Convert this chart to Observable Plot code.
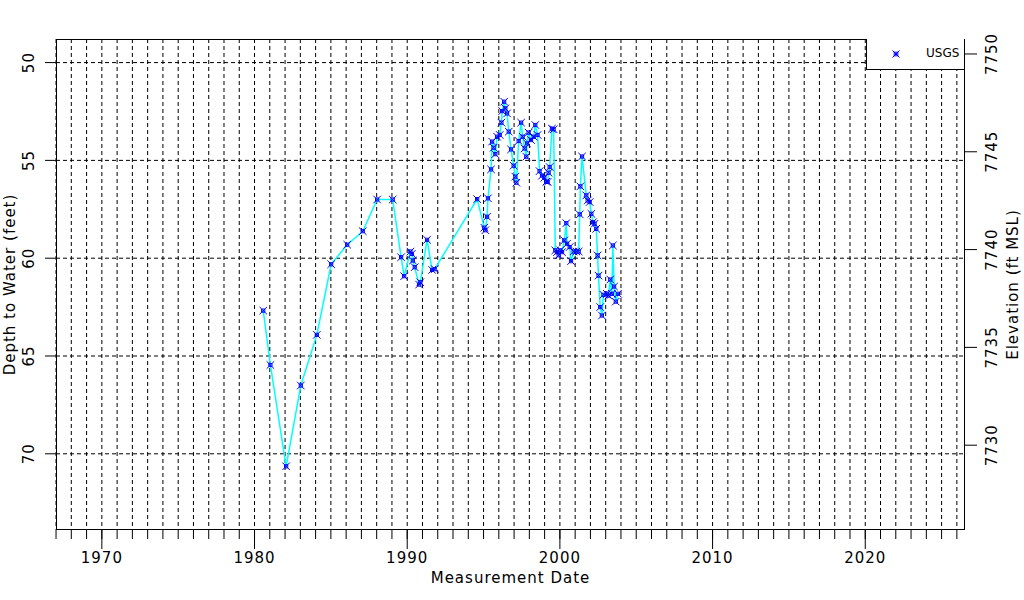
<!DOCTYPE html>
<html><head><meta charset="utf-8">
<script src="https://cdn.jsdelivr.net/npm/d3@7"></script>
<script src="https://cdn.jsdelivr.net/npm/@observablehq/plot@0.6"></script>
<style>
body{margin:0;background:#fff;}
#wrap{position:relative;width:1024px;height:600px;}
#legend{position:absolute;left:866px;top:39px;width:97px;height:30px;border-left:1px solid #000;border-bottom:1px solid #000;background:#fff;font:12px "DejaVu Sans",sans-serif;color:#000;}
#legend svg{position:absolute;left:24px;top:10px;}
#legend span{position:absolute;left:59px;top:7px;}
</style></head><body><div id="wrap"></div>
<script>
const years = [1980.57,1981.04,1982.07,1983.03,1984.08,1985.02,1986.07,1987.09,1988.03,1989.05,
1989.60,1989.80,1990.21,1990.30,1990.37,1990.49,1990.78,1990.86,1991.30,1991.63,1991.80,
1994.58,1995.05,1995.12,1995.23,1995.29,1995.49,1995.56,1995.66,1995.77,1995.89,
1996.06,1996.17,1996.22,1996.35,1996.43,1996.54,1996.65,1996.80,1996.97,1997.08,1997.15,
1997.30,1997.46,1997.56,1997.69,1997.80,1997.85,1997.95,1998.11,1998.28,1998.39,1998.54,
1998.67,1998.83,1998.98,1999.11,1999.20,1999.26,1999.33,1999.48,1999.59,1999.70,1999.81,
1999.92,2000.03,2000.14,2000.29,2000.42,2000.47,2000.64,2000.73,2000.90,2001.08,2001.23,
2001.30,2001.34,2001.45,2001.73,2001.82,2001.95,2002.06,2002.17,2002.27,2002.38,2002.47,
2002.53,2002.64,2002.75,2002.85,2003.07,2003.18,2003.30,2003.40,2003.47,2003.55,2003.66,2003.80];
const depths = [62.68,65.46,70.64,66.51,63.92,60.31,59.31,58.62,57.00,57.00,
59.95,60.92,59.66,59.78,60.12,60.46,61.35,61.23,59.06,60.60,60.56,
56.98,58.44,58.57,57.88,56.94,55.46,54.04,54.35,54.68,53.79,
53.70,53.07,52.48,52.00,52.34,52.60,53.53,54.44,55.27,55.83,56.14,
54.01,53.07,53.79,54.39,54.81,54.13,53.58,53.96,53.79,53.19,53.70,
55.55,55.78,55.89,56.09,56.10,55.63,55.34,53.38,53.41,59.60,59.69,
59.85,59.60,59.69,59.09,58.21,59.26,59.43,60.15,59.66,59.66,59.66,
57.76,56.33,54.80,56.79,57.05,57.13,57.73,58.16,58.24,58.50,59.86,
60.89,62.50,62.93,61.87,61.82,61.91,61.09,61.82,59.35,61.45,62.22,61.82];
const yearTicks = d3.range(1967, 2027);
const decadeTicks = [1970, 1980, 1990, 2000, 2010, 2020];
const depthTicks = [50, 55, 60, 65, 70];
const elevTicks = [7750, 7745, 7740, 7735, 7730];
const landSurface = 7799.56;
const seriesName = "USGS";

const data = years.map((t, i) => ({t, d: depths[i]}));
const dash = "4,3";

const plot = Plot.plot({
  width: 1024, height: 600,
  marginLeft: 56, marginRight: 60, marginTop: 39, marginBottom: 71,
  style: {fontFamily: '"DejaVu Sans", sans-serif', fontSize: "15px", letterSpacing: "1px", background: "#fff", color: "#000"},
  x: {domain: [1967.03, 2026.5], label: null},
  y: {domain: [48.82, 73.87], reverse: true, label: null},
  marks: [
    Plot.ruleX(yearTicks, {stroke: "#000", strokeDasharray: dash}),
    Plot.ruleY(depthTicks, {stroke: "#000", strokeDasharray: dash}),
    Plot.line(data, {x: "t", y: "d", stroke: "#00ffff", strokeWidth: 1.5}),
    Plot.dot(data, {x: "t", y: "d", symbol: "times", r: 3.5, stroke: "#0000ff", strokeWidth: 1}),
    Plot.dot(data, {x: "t", y: "d", symbol: "square", r: 1.8, stroke: "#0000ff", strokeWidth: 1}),
    Plot.frame({stroke: "#000"}),
    Plot.axisX({ticks: yearTicks, tickSize: 10, tickFormat: () => ""}),
    Plot.axisX({ticks: decadeTicks, tickSize: 20, tickPadding: 3, tickFormat: d => String(d)}),
    Plot.axisY({ticks: depthTicks, tickSize: 11, tickPadding: 12, tickRotate: -90, tickFormat: d => String(d)}),
    Plot.axisY({anchor: "right", ticks: elevTicks.map(e => landSurface - e), tickFormat: d => String(Math.round(landSurface - d)), tickSize: 12, tickPadding: 20, tickRotate: -90}),
    Plot.text(["Measurement Date"], {frameAnchor: "bottom", dy: 49, lineAnchor: "middle", textAnchor: "middle", text: d => d}),
    Plot.text(["Depth to Water (feet)"], {frameAnchor: "left", dx: -46, rotate: -90, lineAnchor: "middle", textAnchor: "middle", text: d => d}),
    Plot.text(["Elevation (ft MSL)"], {frameAnchor: "right", dx: 49, rotate: -90, lineAnchor: "middle", textAnchor: "middle", text: d => d})
  ]
});
const wrap = document.getElementById("wrap");
wrap.appendChild(plot);
const leg = document.createElement("div");
leg.id = "legend";
leg.innerHTML = '<svg width="10" height="10" viewBox="-5 -5 10 10"><path d="M-3.5,-3.5L3.5,3.5M3.5,-3.5L-3.5,3.5" stroke="#0000ff"/><rect x="-1.8" y="-1.8" width="3.6" height="3.6" fill="none" stroke="#0000ff"/></svg><span></span>';
leg.querySelector("span").textContent = seriesName;
wrap.appendChild(leg);
</script></body></html>
